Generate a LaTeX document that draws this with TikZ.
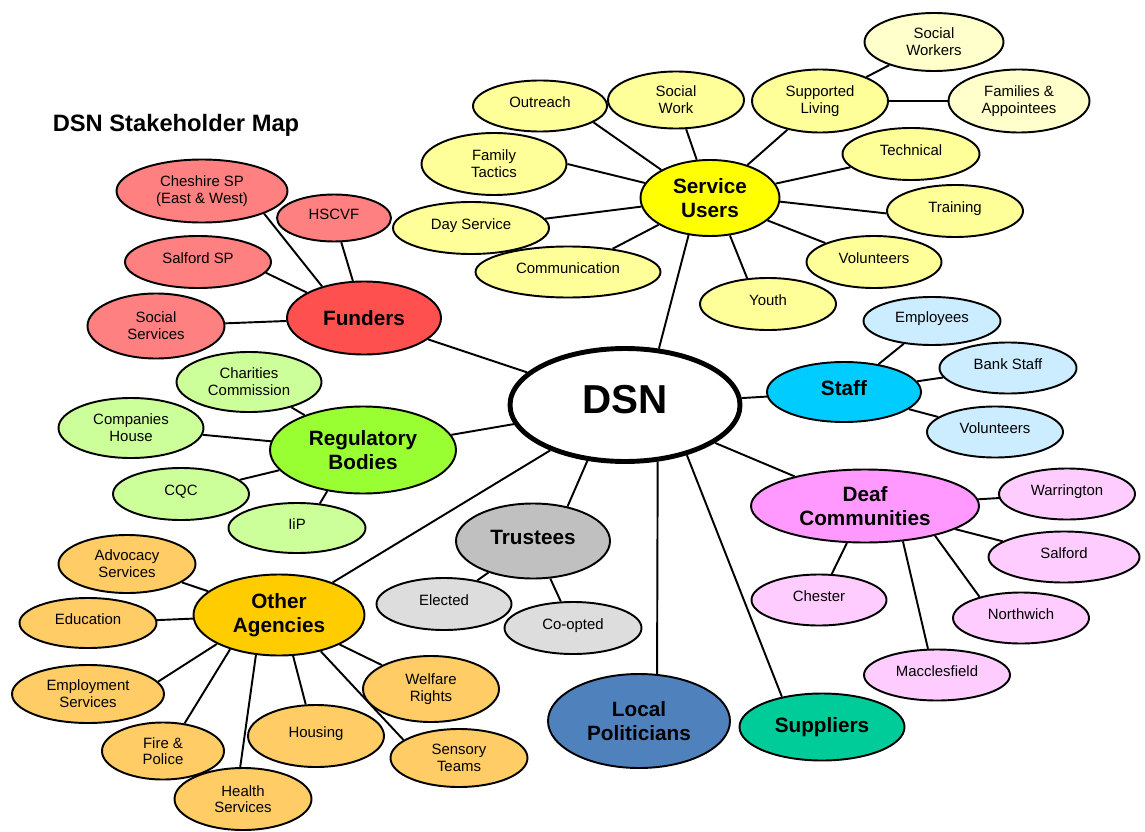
\documentclass[tikz,border=0pt]{standalone}
\usepackage{fontspec}
\setmainfont{Liberation Sans}
\usetikzlibrary{shapes.geometric,backgrounds}
\definecolor{suY}{HTML}{FFFF00}
\definecolor{suC}{HTML}{FFFF99}
\definecolor{suL}{HTML}{FFFFCC}
\definecolor{fuR}{HTML}{FF5050}
\definecolor{fuC}{HTML}{FF8080}
\definecolor{rbG}{HTML}{99FF33}
\definecolor{rbC}{HTML}{CCFF99}
\definecolor{oaO}{HTML}{FFCC00}
\definecolor{oaC}{HTML}{FFCC66}
\definecolor{trG}{HTML}{C0C0C0}
\definecolor{trC}{HTML}{DDDDDD}
\definecolor{stB}{HTML}{00CCFF}
\definecolor{stC}{HTML}{CCECFF}
\definecolor{dcP}{HTML}{FF99FF}
\definecolor{dcC}{HTML}{FFCCFF}
\definecolor{lpB}{HTML}{4F81BD}
\definecolor{spG}{HTML}{00CC99}
\tikzset{
  bub/.style={ellipse, draw=black, line width=1.1pt, inner sep=0pt, align=center, text=black},
  sz/.style 2 args={minimum width=#1*0.02cm, minimum height=#2*0.02cm},
  kid/.style={bub, font=\fontsize{8.5}{9.5}\selectfont},
  hub/.style={bub, font=\fontsize{11.8}{13.6}\selectfont\bfseries},
  kidup/.style={text height=6.5pt, text depth=5pt},
  hubup/.style={text height=9pt, text depth=5.1pt},
  link/.style={line width=1.1pt, draw=black},
}
\begin{document}
\begin{tikzpicture}[x=0.02cm, y=-0.02cm]
\useasboundingbox (0,0) rectangle (1145,831);

\node[font=\fontsize{13.5}{16}\selectfont\bfseries] (title) at (176,125) {DSN Stakeholder Map};

% centre
\node[bub, line width=2.8pt, sz={230}{113}, fill=white, font=\fontsize{23}{26}\selectfont\bfseries, text height=17pt, text depth=7.3pt] (dsn) at (625,405) {DSN};

% Service users
\node[hub, sz={139}{76}, fill=suY] (su) at (710,198) {Service\\Users};
\node[kid, kidup, sz={134}{51}, fill=suC] (outreach) at (540,106) {Outreach};
\node[kid, sz={136}{57}, fill=suC] (socwork) at (676,100) {Social\\Work};
\node[kid, sz={145}{62}, fill=suC] (famtac) at (494,164) {Family\\Tactics};
\node[kid, kidup, sz={156}{52}, fill=suC] (daysvc) at (471,228) {Day Service};
\node[kid, kidup, sz={185}{51}, fill=suC] (comm) at (568,272) {Communication};
\node[kid, sz={136}{63}, fill=suC] (suppliv) at (820,101) {Supported\\Living};
\node[kid, sz={139}{58}, fill=suL] (socworkers) at (934,42) {Social\\Workers};
\node[kid, sz={141}{63}, fill=suL] (families) at (1019,101) {Families \&\\Appointees};
\node[kid, kidup, sz={137}{52}, fill=suC] (technical) at (911,154) {Technical};
\node[kid, kidup, sz={136}{52}, fill=suC] (training) at (955,211) {Training};
\node[kid, kidup, sz={135}{52}, fill=suC] (suvol) at (874,262) {Volunteers};
\node[kid, kidup, sz={136}{52}, fill=suC] (youth) at (768,304) {Youth};

% Funders
\node[hub, sz={154}{73}, fill=fuR] (funders) at (364,318) {Funders};
\node[kid, sz={171}{63}, fill=fuC] (cheshire) at (202,191) {Cheshire SP\\(East \& West)};
\node[kid, kidup, sz={114}{47}, fill=fuC] (hscvf) at (334,218) {HSCVF};
\node[kid, kidup, sz={146}{52}, fill=fuC] (salfordsp) at (198,262) {Salford SP};
\node[kid, sz={137}{65}, fill=fuC] (socsvc) at (156,326) {Social\\Services};

% Regulatory bodies
\node[hub, sz={186}{87}, fill=rbG] (rb) at (363,450) {Regulatory\\Bodies};
\node[kid, sz={145}{60}, fill=rbC] (charities) at (249,382) {Charities\\Commission};
\node[kid, sz={145}{60}, fill=rbC] (companies) at (131,428) {Companies\\House};
\node[kid, kidup, sz={136}{52}, fill=rbC] (cqc) at (181,494) {CQC};
\node[kid, kidup, sz={137}{50}, fill=rbC] (iip) at (297,528) {IiP};

% Other agencies
\node[hub, sz={171}{81}, fill=oaO] (oa) at (279,615) {Other\\Agencies};
\node[kid, sz={137}{58}, fill=oaC] (advocacy) at (127,564) {Advocacy\\Services};
\node[kid, kidup, sz={137}{50}, fill=oaC] (education) at (88,623) {Education};
\node[kid, sz={152}{58}, fill=oaC] (employment) at (88,694) {Employment\\Services};
\node[kid, sz={122}{57}, fill=oaC] (fire) at (163,751) {Fire \&\\Police};
\node[kid, sz={137}{62}, fill=oaC] (health) at (243,799) {Health\\Services};
\node[kid, kidup, sz={136}{62}, fill=oaC] (housing) at (316,736) {Housing};
\node[kid, sz={136}{66}, fill=oaC] (welfare) at (431,689) {Welfare\\Rights};
\node[kid, sz={137}{58}, fill=oaC] (sensory) at (459,758) {Sensory\\Teams};

% Trustees
\node[hub, hubup, sz={154}{75}, fill=trG] (trustees) at (533,541) {Trustees};
\node[kid, kidup, sz={135}{52}, fill=trC] (elected) at (444,604) {Elected};
\node[kid, kidup, sz={137}{52}, fill=trC] (coopted) at (573,628) {Co-opted};

% Staff
\node[hub, hubup, sz={154}{60}, fill=stB] (staff) at (844,392) {Staff};
\node[kid, kidup, sz={137}{48}, fill=stC] (employees) at (932,321) {Employees};
\node[kid, kidup, sz={137}{51}, fill=stC] (bankstaff) at (1008,368) {Bank Staff};
\node[kid, kidup, sz={136}{51}, fill=stC] (stvol) at (995,432) {Volunteers};

% Deaf communities
\node[hub, sz={228}{73}, fill=dcP] (dc) at (865,506) {Deaf\\Communities};
\node[kid, kidup, sz={136}{51}, fill=dcC] (warrington) at (1067,494) {Warrington};
\node[kid, kidup, sz={151}{51}, fill=dcC] (salford) at (1064,557) {Salford};
\node[kid, kidup, sz={135}{51}, fill=dcC] (chester) at (819,600) {Chester};
\node[kid, kidup, sz={136}{51}, fill=dcC] (northwich) at (1021,618) {Northwich};
\node[kid, kidup, sz={146}{51}, fill=dcC] (macc) at (937,675) {Macclesfield};

% Others
\node[hub, sz={182}{94}, fill=lpB] (lp) at (639,721) {Local\\Politicians};
\node[hub, sz={165}{67}, fill=spG] (suppliers) at (822,727) {Suppliers};

\begin{scope}[on background layer]
% DSN links
\draw[link] (dsn.59.8) -- (su.240);
\draw[link] (dsn) -- (funders);
\draw[link] (dsn) -- (rb);
\draw[link] (dsn) -- (oa);
\draw[link] (dsn.236.8) -- (trustees.45.8);
\draw[link] (dsn) -- (staff);
\draw[link] (dsn) -- (dc);
\draw[link] (dsn.-60.3) -- (lp.69);
\draw[link] (dsn.-39.9) -- (suppliers.143.8);
% Service users
\draw[link] (outreach.-17.8) -- (su.150.3);
\draw[link] (socwork) -- (su);
\draw[link] (famtac.-0.8) -- (su.167.4);
\draw[link] (daysvc) -- (su);
\draw[link] (comm) -- (su);
\draw[link] (suppliv) -- (su);
\draw[link] (suppliv) -- (socworkers);
\draw[line width=0.8pt] (suppliv) -- (families);
\draw[link] (technical) -- (su);
\draw[link] (training.182) -- (su.-3);
\draw[link] (suvol) -- (su);
\draw[link] (youth.129.8) -- (su.-62.2);
% Funders
\draw[link] (cheshire.-20.3) -- (funders.143);
\draw[link] (hscvf) -- (funders);
\draw[link] (salfordsp.-9) -- (funders.156.6);
\draw[link] (socsvc) -- (funders);
% Regulatory
\draw[link] (charities) -- (rb);
\draw[link] (companies) -- (rb);
\draw[link] (cqc) -- (rb);
\draw[link] (iip.47.4) -- (rb.229.4);
% Other agencies
\draw[link] (advocacy) -- (oa);
\draw[link] (education) -- (oa);
\draw[link] (employment.10.2) -- (oa.205);
\draw[link] (fire.52.8) -- (oa.215.5);
\draw[link] (health.95) -- (oa.240.6);
\draw[link] (housing.108) -- (oa.-71);
\draw[link] (welfare) -- (oa);
\draw[link] (sensory.162.8) -- (oa.-41.5);
% Trustees
\draw[link] (elected) -- (trustees);
\draw[link] (coopted) -- (trustees);
% Staff
\draw[link] (employees) -- (staff);
\draw[link] (bankstaff) -- (staff);
\draw[link] (stvol) -- (staff);
% Deaf communities
\draw[link] (warrington) -- (dc);
\draw[link] (salford) -- (dc);
\draw[link] (chester) -- (dc);
\draw[link] (northwich.153.4) -- (dc.-23.7);
\draw[link] (macc.109) -- (dc.-43.5);
\end{scope}
\end{tikzpicture}
\end{document}
